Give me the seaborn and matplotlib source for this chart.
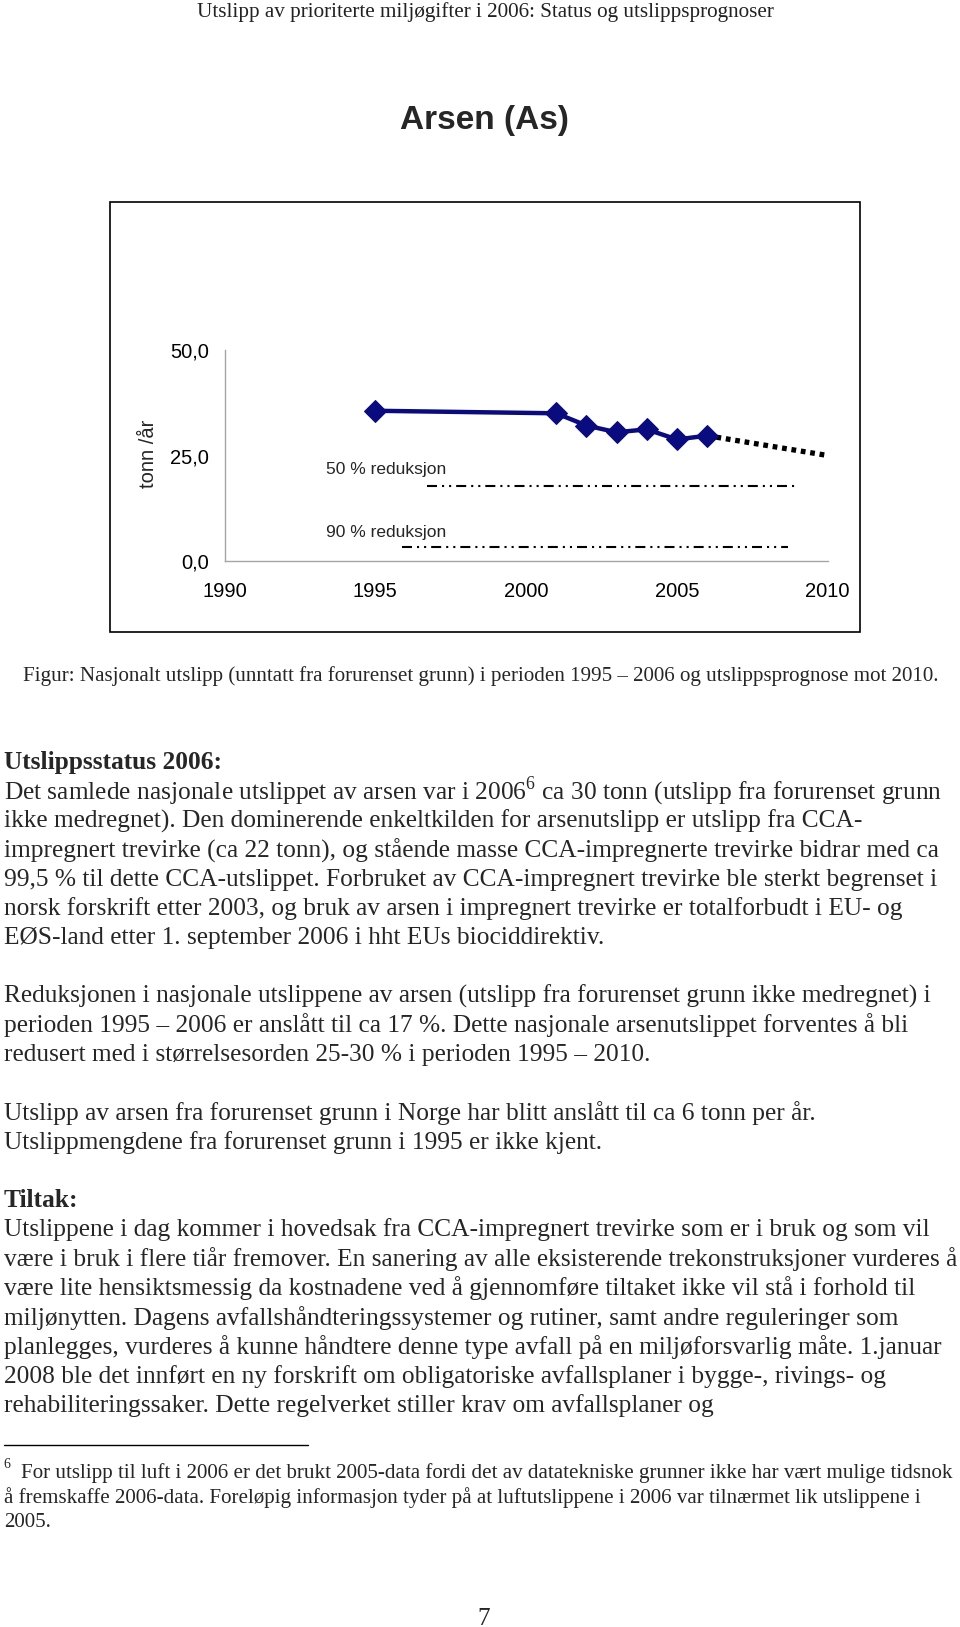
import matplotlib
matplotlib.use('Agg')
import matplotlib.pyplot as plt
import seaborn as sns
from matplotlib.patches import Rectangle
from matplotlib.lines import Line2D

# ---------------- data ----------------
years = [1995, 2001, 2002, 2003, 2004, 2005, 2006]
emissions = [35.6, 35.0, 32.1, 30.5, 31.2, 28.8, 29.7]
forecast_years = [2006, 2010]
forecast_values = [29.7, 25.0]
red50_years = [1996.7, 2008.9]
red50_values = [17.8, 17.8]
red90_years = [1995.9, 2008.7]
red90_values = [3.2, 3.2]
x_ticks = [1990, 1995, 2000, 2005, 2010]
y_ticks = [0, 25, 50]
y_tick_labels = ['0,0', '25,0', '50,0']
red50_label = '50 % reduksjon'
red90_label = '90 % reduksjon'
y_label = 'tonn /år'

header = 'Utslipp av prioriterte miljøgifter i 2006: Status og utslippsprognoser'
title = 'Arsen (As)'
caption = ('Figur: Nasjonalt utslipp (unntatt fra forurenset grunn) i perioden 1995 – 2006 '
           'og utslippsprognose mot 2010.')
head1 = 'Utslippsstatus 2006:'
para1 = [
    r'Det samlede nasjonale utslippet av arsen var i 2006$^{\mathrm{6}}$ ca 30 tonn (utslipp fra forurenset grunn',
    'ikke medregnet). Den dominerende enkeltkilden for arsenutslipp er utslipp fra CCA-',
    'impregnert trevirke (ca 22 tonn), og stående masse CCA-impregnerte trevirke bidrar med ca',
    '99,5 % til dette CCA-utslippet. Forbruket av CCA-impregnert trevirke ble sterkt begrenset i',
    'norsk forskrift etter 2003, og bruk av arsen i impregnert trevirke er totalforbudt i EU- og',
    'EØS-land etter 1. september 2006 i hht EUs biociddirektiv.',
]
para2 = [
    'Reduksjonen i nasjonale utslippene av arsen (utslipp fra forurenset grunn ikke medregnet) i',
    'perioden 1995 – 2006 er anslått til ca 17 %. Dette nasjonale arsenutslippet forventes å bli',
    'redusert med i størrelsesorden 25-30 % i perioden 1995 – 2010.',
]
para3 = [
    'Utslipp av arsen fra forurenset grunn i Norge har blitt anslått til ca 6 tonn per år.',
    'Utslippmengdene fra forurenset grunn i 1995 er ikke kjent.',
]
head2 = 'Tiltak:'
para4 = [
    'Utslippene i dag kommer i hovedsak fra CCA-impregnert trevirke som er i bruk og som vil',
    'være i bruk i flere tiår fremover. En sanering av alle eksisterende trekonstruksjoner vurderes å',
    'være lite hensiktsmessig da kostnadene ved å gjennomføre tiltaket ikke vil stå i forhold til',
    'miljønytten. Dagens avfallshåndteringssystemer og rutiner, samt andre reguleringer som',
    'planlegges, vurderes å kunne håndtere denne type avfall på en miljøforsvarlig måte. 1.januar',
    '2008 ble det innført en ny forskrift om obligatoriske avfallsplaner i bygge-, rivings- og',
    'rehabiliteringssaker. Dette regelverket stiller krav om avfallsplaner og',
]
foot_mark = '6'
footnote = [
    'For utslipp til luft i 2006 er det brukt 2005-data fordi det av datatekniske grunner ikke har vært mulige tidsnok',
    'å fremskaffe 2006-data. Foreløpig informasjon tyder på at luftutslippene i 2006 var tilnærmet lik utslippene i',
    '2005.',
]
page_no = '7'

# ---------------- style ----------------
sns.set_style('white')
plt.rcParams['font.family'] = ['Liberation Sans', 'DejaVu Sans']
plt.rcParams['mathtext.fontset'] = 'custom'
plt.rcParams['mathtext.rm'] = 'Liberation Serif'

W, H = 960, 1627
fig = plt.figure(figsize=(W / 100, H / 100), dpi=100)
fig.patch.set_facecolor('white')


def fx(px):
    return px / W


def fy(py):
    return 1 - py / H


renderer = fig.canvas.get_renderer()


def fit(t, target):
    w = t.get_window_extent(renderer).width
    t.set_fontsize(t.get_fontsize() * target / w)
    return t.get_fontsize()


SERIF = ['Liberation Serif', 'DejaVu Serif']
SANS = ['Liberation Sans', 'DejaVu Sans']

# ---------------- chart ----------------
navy = '#0b0b80'
ax = fig.add_axes([fx(224.5), fy(561), (827.7 - 224.5) / W, (561 - 350) / H])
ax.patch.set_alpha(0)

sns.lineplot(x=red50_years, y=red50_values, ax=ax, color='black', lw=1.5,
             linestyle=(0, (4.8, 2.4, 1, 2.4, 1, 2.4)), clip_on=False)
sns.lineplot(x=red90_years, y=red90_values, ax=ax, color='black', lw=1.5,
             linestyle=(0, (4.8, 2.4, 1, 2.4, 1, 2.4)), clip_on=False)
sns.lineplot(x=forecast_years, y=forecast_values, ax=ax, color='black', lw=3.8,
             linestyle=(0, (0.9, 0.9)), dash_capstyle='butt', clip_on=False)
sns.lineplot(x=years, y=emissions, ax=ax, color=navy, lw=3.2, marker='D',
             markersize=11.5, markeredgecolor=navy, markerfacecolor=navy, clip_on=False)

ax.set_xlim(1990, 2010)
ax.set_ylim(0, 50)
ax.set_xticks(x_ticks)
ax.set_xticklabels([str(v) for v in x_ticks])
ax.set_yticks(y_ticks)
ax.set_yticklabels(y_tick_labels)
for s in ['top', 'right']:
    ax.spines[s].set_visible(False)
for s in ['left', 'bottom']:
    ax.spines[s].set_color('#a6a6a6')
    ax.spines[s].set_linewidth(1)
ax.tick_params(axis='both', direction='out', length=4.3, width=1, color='#a6a6a6',
               labelsize=14.5, labelcolor='black')
ax.tick_params(axis='y', pad=7)
ax.tick_params(axis='x', pad=10.5)
ax.set_xlabel('')
ax.set_ylabel('')
ax.grid(False)

ax.text(1993.36, 21.7, red50_label, fontsize=12.5, va='center', ha='left', family=SANS)
ax.text(1993.36, 6.8, red90_label, fontsize=12.5, va='center', ha='left', family=SANS)
fig.text(fx(148.4), fy(453.5), y_label, rotation=90, ha='center', va='center',
         fontsize=14.5, family=SANS)

fig.add_artist(Rectangle((fx(109.5), fy(632.5)), (860 - 109.5) / W, (632.5 - 202) / H,
                         transform=fig.transFigure, fill=False, ec='black', lw=1.2))

# ---------------- page text ----------------
t = fig.text(fx(485), fy(12.5), header, ha='center', va='center', family=SERIF,
             fontsize=12, color='#222222')
fit(t, 578)

t = fig.text(fx(484), fy(120.5), title, ha='center', va='center', family=SANS,
             weight='bold', fontsize=24)
fit(t, 169)

t = fig.text(fx(22.8), fy(675.6), caption, ha='left', va='center', family=SERIF, fontsize=14)
fit(t, 920)

ref = fig.text(0, 0, para1[3], family=SERIF, fontsize=16)
body_fs = fit(ref, 932)
ref.remove()


def lines(items, x0, y0, step=29.3, weight='normal'):
    for i, s in enumerate(items):
        fig.text(fx(x0), fy(y0 + i * step), s, ha='left', va='center', family=SERIF,
                 fontsize=body_fs, weight=weight)


lines([head1], 4, 762.7, weight='bold')
lines(para1, 4, 791.8)
lines(para2, 4, 996.2)
lines(para3, 4, 1113.5)
lines([head2], 4, 1200.7, weight='bold')
lines(para4, 4, 1229.7)

fig.add_artist(Line2D([fx(4), fx(308)], [fy(1444.6), fy(1444.6)], transform=fig.transFigure,
                      color='black', lw=1))
fig.text(fx(7), fy(1465), foot_mark, ha='center', va='center', family=SERIF,
         fontsize=body_fs * 0.55)
t = fig.text(fx(21.4), fy(1472.6), footnote[0], ha='left', va='center', family=SERIF, fontsize=14)
foot_fs = fit(t, 935.7)
fig.text(fx(4), fy(1497.5), footnote[1], ha='left', va='center', family=SERIF, fontsize=foot_fs)
fig.text(fx(4), fy(1522.3), footnote[2], ha='left', va='center', family=SERIF, fontsize=foot_fs)

fig.text(fx(483.6), fy(1619), page_no, ha='center', va='center', family=SERIF, fontsize=body_fs)

fig.savefig('out.png', dpi=100, facecolor='white')
